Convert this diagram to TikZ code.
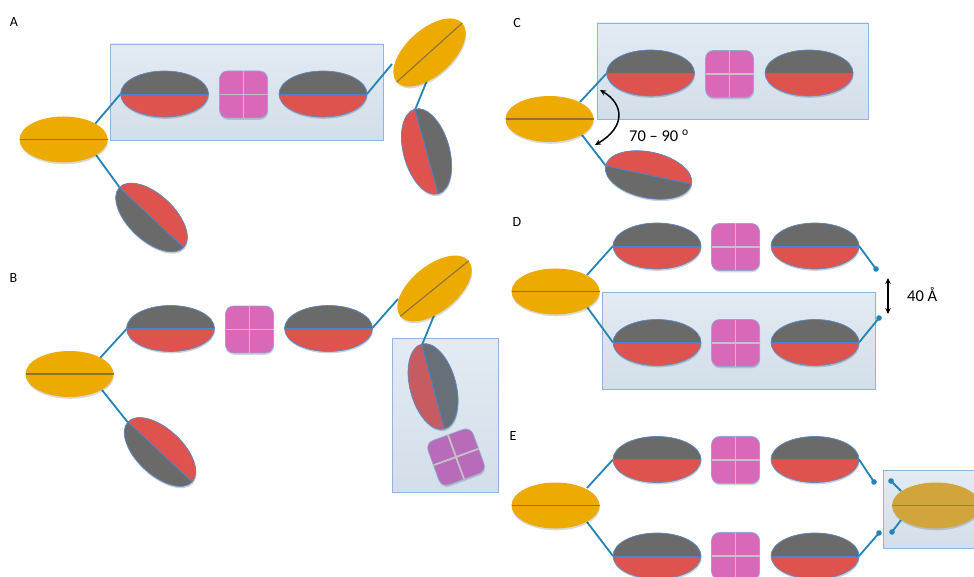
\documentclass[tikz,border=0pt]{standalone}
\usepackage{fontspec}
\setmainfont{Carlito}
\usetikzlibrary{arrows.meta}
\definecolor{greyc}{HTML}{6A6A6A}
\definecolor{redc}{HTML}{DE534D}
\definecolor{yellowc}{HTML}{EDAA00}
\definecolor{yline}{HTML}{8E7230}
\definecolor{ellout}{HTML}{5B8CC8}
\definecolor{splitc}{HTML}{4A84C4}
\definecolor{pinkc}{HTML}{D968B8}
\definecolor{pinkedge}{HTML}{8FA9D4}
\definecolor{gridc}{HTML}{C6C1C6}
\definecolor{linkblue}{HTML}{2383B8}
\definecolor{boxtop}{HTML}{E3EBF3}
\definecolor{boxbot}{HTML}{D2DEE9}
\definecolor{boxedge}{HTML}{92B4DA}
\definecolor{redT}{HTML}{C65B61}
\definecolor{greyT}{HTML}{677079}
\definecolor{pinkT}{HTML}{B86BB9}
\definecolor{yellowT}{HTML}{D1A53B}
\definecolor{ylineT}{HTML}{9A7E3A}
\newcommand\splitell[5]{%
 \begin{scope}[shift={#1}]
  \fill[black, opacity=0.18, shift={(0.6,1.8)}, rotate=#2] (0,0) ellipse[x radius=44, y radius=23];
  \begin{scope}[rotate=#2]
   \fill[#4] (0,0) ellipse[x radius=44, y radius=23];
   \begin{scope}
    \clip (0,0) ellipse[x radius=44, y radius=23];
    \fill[#3] (-45,-24) rectangle (45,0);
   \end{scope}
   \draw[#5, line width=0.9pt] (-44,0) -- (44,0);
   \draw[ellout, line width=0.7pt] (0,0) ellipse[x radius=44, y radius=23];
  \end{scope}
 \end{scope}}
\newcommand\yellell[4]{%
 \begin{scope}[shift={#1}]
  \fill[black, opacity=0.15, shift={(0.6,1.8)}, rotate=#2] (0,0) ellipse[x radius=44, y radius=23];
  \begin{scope}[rotate=#2]
   \fill[#3] (0,0) ellipse[x radius=44, y radius=23];
   \draw[#4, line width=1.1pt] (-44,0) -- (44,0);
  \end{scope}
 \end{scope}}
\newcommand\pinksq[3]{%
 \begin{scope}[shift={#1}]
  \fill[black, opacity=0.15, rounded corners=8pt, shift={(0.6,1.8)}, rotate=#2] (-24,-23.5) rectangle (24,23.5);
  \begin{scope}[rotate=#2]
   \filldraw[fill=#3, draw=pinkedge, line width=0.7pt, rounded corners=8pt] (-24,-23.5) rectangle (24,23.5);
   \draw[gridc, line width=1.8pt] (0,-23.5) -- (0,23.5) (-24,0) -- (24,0);
  \end{scope}
 \end{scope}}
\begin{document}
\begin{tikzpicture}[x=1pt,y=-1pt,
  conn/.style={draw=linkblue, line width=1.8pt},
  boxbg/.style={draw=boxedge, line width=0.8pt, top color=boxtop, bottom color=boxbot},
  lab/.style={font=\fontsize{14}{16}\selectfont, inner sep=0pt},
  ann/.style={font=\fontsize{16.5}{19}\selectfont, inner sep=0pt},
  dbl/.style={draw=black, line width=1.5pt, {Stealth[length=6pt,width=5.5pt]}-{Stealth[length=6pt,width=5.5pt]}},
  dotc/.style={fill=linkblue}]
\useasboundingbox (0,0) rectangle (974,577);
\clip (0,0) rectangle (974,577);
\fill[white] (0,0) rectangle (974,577);

% ---------- boxes
\draw[boxbg] (110,44) rectangle (383,140);
\draw[boxbg] (392,338) rectangle (498,492);
\draw[boxbg] (597,23) rectangle (868,119);
\draw[boxbg] (602,292) rectangle (875,389);
\draw[boxbg] (883,470) rectangle (1000,548);

% ---------- labels
\node[lab] (labA) at (14,22.5) {A};
\node[lab] (labB) at (13.5,278) {B};
\node[lab] (labC) at (517,23) {C};
\node[lab] (labD) at (517,222.5) {D};
\node[lab] (labE) at (513,436.5) {E};

% ---------- panel A connectors
\coordinate (A0a) at (95,124);   \coordinate (A1l) at (120.5,94);
\coordinate (A0b) at (96,155);   \coordinate (A3e) at (120,188);
\coordinate (A2r) at (367,94);   \coordinate (AY2a) at (392,64);
\coordinate (AY2b) at (428,78);  \coordinate (A4e) at (415,110);
\draw[conn] (A0a) -- (A1l);
\draw[conn] (A0b) -- (A3e);
\draw[conn] (A2r) -- (AY2a);
\draw[conn] (AY2b) -- (A4e);
% panel A shapes
\yellell{(63.5,139.5)}{0}{yellowc}{yline}
\splitell{(164.5,94)}{0}{greyc}{redc}{splitc}
\pinksq{(243.5,94.5)}{0}{pinkc}
\splitell{(323,94)}{0}{greyc}{redc}{splitc}
\yellell{(429.5,52.5)}{42}{yellowc}{yline}
\splitell{(151.5,217.5)}{-43}{redc}{greyc}{splitc}
\splitell{(426.5,151.5)}{-74.5}{greyc}{redc}{splitc}

% ---------- panel B
\coordinate (B0a) at (100,358);  \coordinate (B1l) at (127,328.5);
\coordinate (B0b) at (102,390);  \coordinate (B3e) at (127.5,422);
\coordinate (B2r) at (372,328.5); \coordinate (BY2a) at (398,299);
\coordinate (BY2b) at (435,313); \coordinate (B4e) at (422,345);
\draw[conn] (B0a) -- (B1l);
\draw[conn] (B0b) -- (B3e);
\draw[conn] (B2r) -- (BY2a);
\draw[conn] (BY2b) -- (B4e);
\yellell{(69.5,374)}{0}{yellowc}{yline}
\splitell{(170.5,328.5)}{0}{greyc}{redc}{splitc}
\pinksq{(249.5,329.5)}{0}{pinkc}
\splitell{(328.5,328.5)}{0}{greyc}{redc}{splitc}
\yellell{(434.5,288.5)}{39}{yellowc}{yline}
\splitell{(160,452)}{-43}{redc}{greyc}{splitc}
\splitell{(433,386.5)}{-75}{greyT}{redT}{splitc}
\pinksq{(456,457)}{20}{pinkT}

% ---------- panel C
\coordinate (C0a) at (580,102);  \coordinate (C1l) at (607,73);
\coordinate (C0b) at (582,135);  \coordinate (C3e) at (606,166);
\draw[conn] (C0a) -- (C1l);
\draw[conn] (C0b) -- (C3e);
\yellell{(549.5,119)}{0}{yellowc}{yline}
\splitell{(650.5,73)}{0}{greyc}{redc}{splitc}
\pinksq{(729.5,74)}{0}{pinkc}
\splitell{(809,73)}{0}{greyc}{redc}{splitc}
\splitell{(648.5,175)}{-12}{redc}{greyc}{splitc}
\coordinate (Ct) at (600,90); \coordinate (Cb) at (595,145);
\draw[dbl] (Ct) .. controls (624,104) and (626,127) .. (Cb);
\node[ann, anchor=base west] (angtxt) at (629,141.3) {70 -- 90 \textsuperscript{o}};

% ---------- panel D
\coordinate (D0a) at (587,275);  \coordinate (D1l) at (613,246);
\coordinate (D0b) at (587,307);  \coordinate (D3l) at (613,342.5);
\coordinate (D2r) at (859,246);  \coordinate (Dd1) at (876,269);
\coordinate (D4r) at (859,342.5); \coordinate (Dd2) at (879,318);
\draw[conn] (D0a) -- (D1l);
\draw[conn] (D0b) -- (D3l);
\draw[conn] (D2r) -- (Dd1);
\draw[conn] (D4r) -- (Dd2);
\fill[dotc] (Dd1) circle[radius=2.8pt];
\fill[dotc] (Dd2) circle[radius=2.8pt];
\yellell{(555.5,291.5)}{0}{yellowc}{yline}
\splitell{(657,246)}{0}{greyc}{redc}{splitc}
\pinksq{(735.5,247)}{0}{pinkc}
\splitell{(815,246)}{0}{greyc}{redc}{splitc}
\splitell{(657,342.5)}{0}{greyc}{redc}{splitc}
\pinksq{(735.5,343)}{0}{pinkc}
\splitell{(815,342.5)}{0}{greyc}{redc}{splitc}
\coordinate (Dat) at (888,278); \coordinate (Dab) at (888,314);
\draw[dbl] (Dat) -- (Dab);
\node[ann, anchor=base west] (dist) at (907,301.7) {40 Å};

% ---------- panel E
\coordinate (E0a) at (587,488);  \coordinate (E1l) at (613,459.5);
\coordinate (E0b) at (587,522);  \coordinate (E3l) at (613,556);
\coordinate (E2r) at (859,459.5); \coordinate (Ed1) at (874,482);
\coordinate (E4r) at (859,556);  \coordinate (Ed2) at (879,533);
\coordinate (Ed3) at (891,481);  \coordinate (EYa) at (901,491);
\coordinate (Ed4) at (892,532);  \coordinate (EYb) at (901,520);
\draw[conn] (E0a) -- (E1l);
\draw[conn] (E0b) -- (E3l);
\draw[conn] (E2r) -- (Ed1);
\draw[conn] (E4r) -- (Ed2);
\draw[conn] (Ed3) -- (EYa);
\draw[conn] (Ed4) -- (EYb);
\foreach \d in {Ed1,Ed2,Ed3,Ed4} \fill[dotc] (\d) circle[radius=2.8pt];
\yellell{(555.5,505.5)}{0}{yellowc}{yline}
\splitell{(657,459.5)}{0}{greyc}{redc}{splitc}
\pinksq{(735.5,460)}{0}{pinkc}
\splitell{(815,459.5)}{0}{greyc}{redc}{splitc}
\splitell{(657,556)}{0}{greyc}{redc}{splitc}
\pinksq{(735.5,556)}{0}{pinkc}
\splitell{(815,556)}{0}{greyc}{redc}{splitc}
\yellell{(936,505.5)}{0}{yellowT}{ylineT}
\end{tikzpicture}
\end{document}
